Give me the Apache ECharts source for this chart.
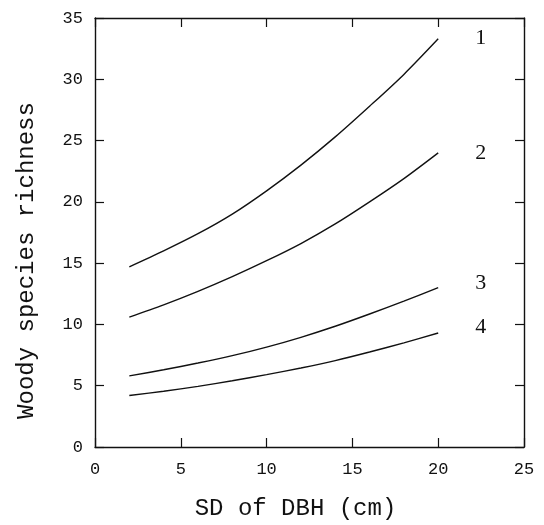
<!doctype html>
<html>
	<head>
		<meta charset="UTF-8">
		<title>Woody species richness</title>
		<script src="https://cdn.jsdelivr.net/npm/echarts@6/dist/echarts.min.js"></script>
		<style>
			html, body { margin: 0; padding: 0; background: #fff; }
			#chart { width: 544px; height: 525px; }
		</style>
	</head>
	<body>
		<div id="chart"></div>
		<script>
			// SD of DBH (cm)
			var sdDbh = [2, 4, 6, 8, 10, 12, 14, 16, 18, 20];
			// richness curves
			var curve1 = [14.7, 16.0, 17.4, 19.0, 20.9, 23.0, 25.3, 27.8, 30.4, 33.3];
			var curve2 = [10.6, 11.6, 12.7, 13.9, 15.2, 16.6, 18.2, 20.0, 21.9, 24.0];
			var curve3 = [5.8, 6.3, 6.85, 7.45, 8.15, 8.95, 9.85, 10.85, 11.9, 13.0];
			var curve4 = [4.2, 4.55, 4.95, 5.4, 5.9, 6.45, 7.05, 7.75, 8.5, 9.3];
			var curveNames = ['1', '2', '3', '4'];
			var labelShift = [[29, -1], [29, 0], [29, -4], [29, -6]];

			var font = 'Liberation Mono';
			var ink = '#111';

			function pairs(ys) {
				return sdDbh.map(function(x, i) { return [x, ys[i]]; });
			}

			// fresh objects every time, echarts may keep references
			function line() {
				return { show: true, onZero: false, lineStyle: { color: ink, width: 1.4 } };
			}
			function ticks() {
				return { show: true, inside: true, length: 9, lineStyle: { color: ink, width: 1.2 } };
			}

			var series = [curve1, curve2, curve3, curve4].map(function(ys, k) {
				return {
					name: curveNames[k],
					type: 'line',
					data: pairs(ys),
					smooth: 0.3,
					showSymbol: false,
					silent: true,
					lineStyle: { color: ink, width: 1.4 },
					endLabel: {
						show: true,
						formatter: '{a}',
						offset: labelShift[k],
						fontFamily: 'Liberation Serif',
						fontSize: 22,
						color: ink
					}
				};
			});

			var myChart = echarts.init(document.getElementById('chart'));

			myChart.setOption({
				backgroundColor: '#fff',
				animation: false,
				grid: { left: 95, right: 20, top: 18, bottom: 78, containLabel: false, outerBoundsMode: 'none' },
				xAxis: [{
					type: 'value', position: 'bottom', min: 0, max: 25, interval: 5,
					name: 'SD of DBH (cm)', nameLocation: 'middle', nameGap: 50,
					nameTextStyle: { fontFamily: font, fontSize: 24, color: ink, padding: [0, 28, 0, 0] },
					axisLine: line(), axisTick: ticks(),
					axisLabel: { fontFamily: font, fontSize: 17, color: ink, margin: 14 },
					splitLine: { show: false }
				}, {
					type: 'value', position: 'top', min: 0, max: 25, interval: 5,
					axisLine: line(), axisTick: ticks(),
					axisLabel: { show: false }, splitLine: { show: false }
				}],
				yAxis: [{
					type: 'value', position: 'left', min: 0, max: 35, interval: 5,
					name: 'Woody species richness', nameLocation: 'middle', nameGap: 56,
					nameTextStyle: { fontFamily: font, fontSize: 24, color: ink, padding: [0, 56, 0, 0] },
					axisLine: line(), axisTick: ticks(),
					axisLabel: { fontFamily: font, fontSize: 17, color: ink, margin: 12 },
					splitLine: { show: false }
				}, {
					type: 'value', position: 'right', min: 0, max: 35, interval: 5,
					axisLine: line(), axisTick: ticks(),
					axisLabel: { show: false }, splitLine: { show: false }
				}],
				series: series
			});
		</script>
	</body>
</html>
